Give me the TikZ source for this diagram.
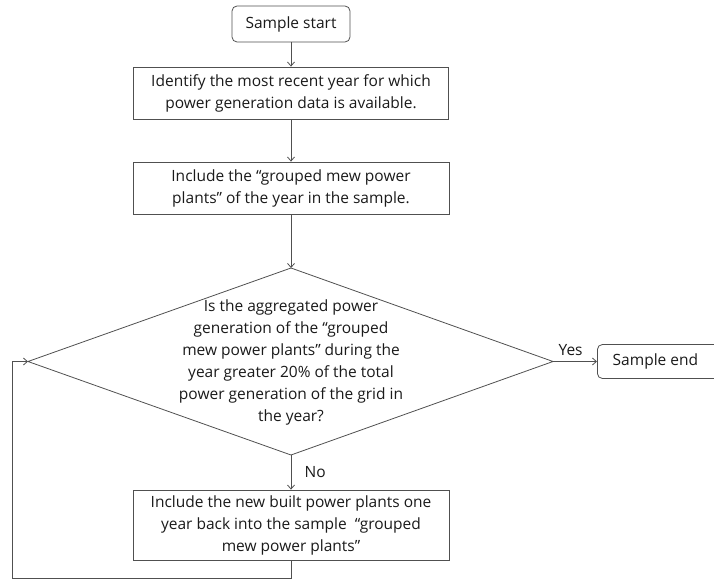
\documentclass[tikz,border=0pt]{standalone}
\usepackage{fontspec}
\setmainfont{Open Sans}
\usetikzlibrary{arrows.meta}
\definecolor{txt}{HTML}{1A1A1A}
\definecolor{ln}{HTML}{505050}
\begin{document}
\begin{tikzpicture}[x=1pt,y=-1pt,
  every node/.style={text=txt,font=\fontsize{15.5}{22}\selectfont},
  box/.style={draw=ln,line width=0.8pt,align=center,inner sep=0pt},
  term/.style={box,rounded corners=5pt},
  conn/.style={draw=ln,line width=0.8pt,-{Straight Barb[length=4pt,width=7pt]}},
  plain/.style={draw=ln,line width=0.8pt}]
\useasboundingbox (0,0) rectangle (714,580);
\node[term,minimum width=118pt,minimum height=36pt] (start) at (291,24) {Sample start};
\node[box,minimum width=315pt,minimum height=52pt] (b1) at (291,93) {Identify the most recent year for which\\power generation data is available.};
\node[box,minimum width=316pt,minimum height=52pt] (b2) at (291,188) {Include the “grouped mew power\\plants” of the year in the sample.};
\coordinate (dt) at (291,268);
\coordinate (db) at (291,455);
\coordinate (dl) at (28,361.5);
\coordinate (dr) at (553,361.5);
\draw[plain] (dt) -- (dr) -- (db) -- (dl) -- cycle;
\node[align=center,inner sep=0pt] (q) at (291,362) {Is the aggregated power\\generation of the “grouped\\mew power plants” during the\\year greater 20\% of the total\\power generation of the grid in\\the year?};
\node[term,minimum width=124pt,minimum height=34pt,anchor=west] (end) at (597,361.5) {\hspace*{-8pt}Sample end};
\node[box,minimum width=316pt,minimum height=70pt] (b3) at (291,525) {Include the new built power plants one\\year back into the sample \ “grouped\\mew power plants”};
\coordinate (c1) at (291,578);
\coordinate (c2) at (12,578);
\coordinate (c3) at (12,361.5);
\draw[conn] (start) -- (b1);
\draw[conn] (b1) -- (b2);
\draw[conn] (b2) -- (dt);
\draw[conn] (dr) -- node[above,pos=0.4,yshift=2pt] (yes) {Yes} (end);
\draw[conn] (db) -- node[right,xshift=10pt] (no) {No} (b3);
\draw[conn] (b3.south) -- (c1) -- (c2) -- (c3) -- (dl);
\end{tikzpicture}
\end{document}
